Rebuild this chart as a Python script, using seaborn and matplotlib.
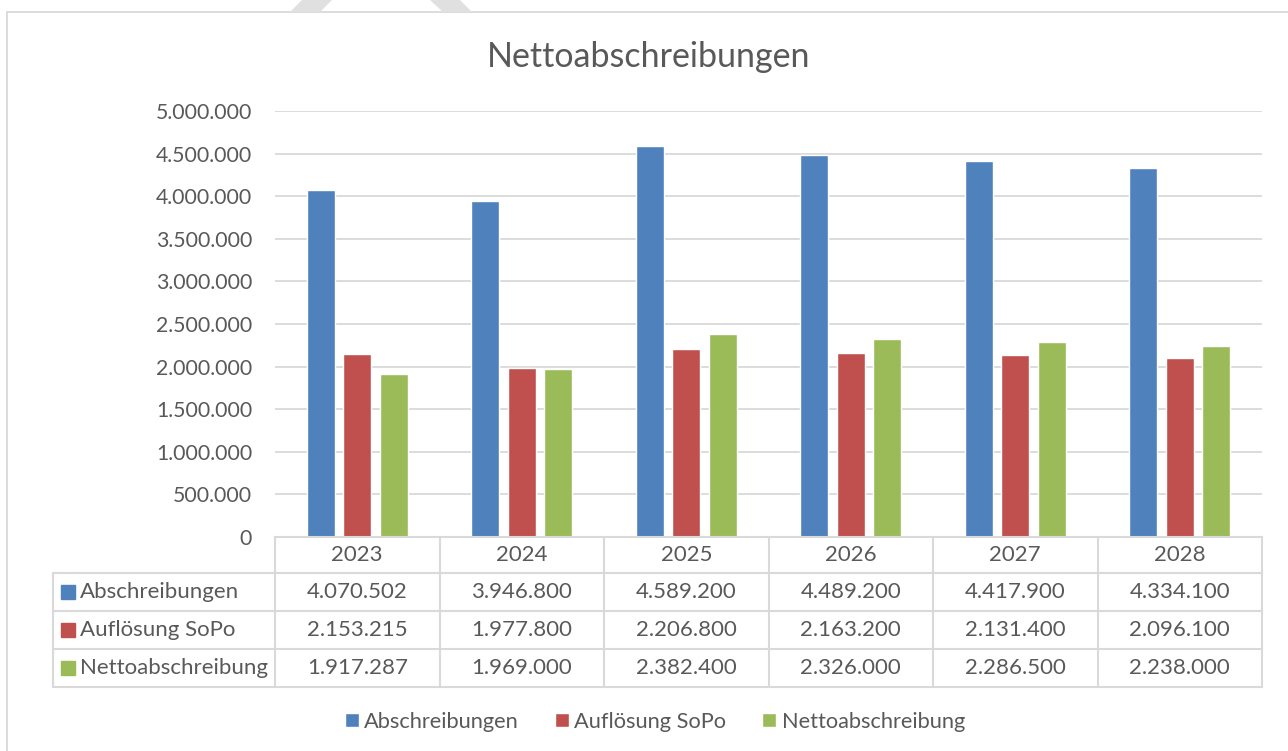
import matplotlib
matplotlib.use("Agg")
import matplotlib.pyplot as plt
import matplotlib.patches as mpatches
from matplotlib.lines import Line2D
import seaborn as sns
import pandas as pd

# ---------------- data ----------------
years = ["2023", "2024", "2025", "2026", "2027", "2028"]
series_names = ["Abschreibungen", "Auflösung SoPo", "Nettoabschreibung"]
abschreibungen = [4070502, 3946800, 4589200, 4489200, 4417900, 4334100]
aufloesung_sopo = [2153215, 1977800, 2206800, 2163200, 2131400, 2096100]
nettoabschreibung = [1917287, 1969000, 2382400, 2326000, 2286500, 2238000]
y_ticks = [0, 500000, 1000000, 1500000, 2000000, 2500000, 3000000, 3500000, 4000000, 4500000, 5000000]
title = "Nettoabschreibungen"

colors = ["#4F81BD", "#C0504D", "#9BBB59"]
text_color = "#595959"
grid_color = "#D9D9D9"

values = [abschreibungen, aufloesung_sopo, nettoabschreibung]
df = pd.DataFrame({
    "Jahr": years * 3,
    "Serie": [s for s in series_names for _ in years],
    "Wert": abschreibungen + aufloesung_sopo + nettoabschreibung,
})

def de_fmt(v):
    return f"{int(v):,}".replace(",", ".")

# ---------------- figure ----------------
sns.set_theme(style="white")
plt.rcParams["font.family"] = ["Lato", "DejaVu Sans"]

W, H = 1288, 751
fig = plt.figure(figsize=(W / 100, H / 100), dpi=100)

def fx(px):
    return px / W

def fy(py):
    return 1 - py / H

ax_l, ax_r, ax_t, ax_b = 275, 1262, 111, 537
ax = fig.add_axes([fx(ax_l), fy(ax_b), fx(ax_r - ax_l), (ax_b - ax_t) / H])

sns.barplot(data=df, x="Jahr", y="Wert", hue="Serie", order=years,
            hue_order=series_names, palette=colors, width=0.665, gap=0.23,
            saturation=1, ax=ax, legend=True)

ax.set_ylim(0, 5000000)
ax.set_xlim(-0.5, len(years) - 0.5)
ax.set_yticks(y_ticks)
ax.set_yticklabels([de_fmt(t) for t in y_ticks], color=text_color, fontsize=15.3)
ax.tick_params(axis="y", length=0, pad=16.5)
ax.set_xticks([])
ax.set_xlabel("")
ax.set_ylabel("")
ax.yaxis.grid(True, color=grid_color, linewidth=1.3)
ax.set_axisbelow(True)
for s in ax.spines.values():
    s.set_visible(False)

handles, labels = ax.get_legend_handles_labels()
ax.get_legend().remove()

# ---------------- data table ----------------
axh = ax_b - ax_t
def ay(py):
    return (ax_b - py) / axh
def axx(px):
    return (px - ax_l) / (ax_r - ax_l)

row_edges = [537, 573, 611, 649, 687]
left_px = 53
lw = 1.5
tr = ax.transAxes
col_w = 1.0 / len(years)

# horizontal lines
ax.add_line(Line2D([0, 1], [ay(row_edges[0])] * 2, transform=tr, color=grid_color, lw=lw, clip_on=False))
for r in row_edges[1:]:
    ax.add_line(Line2D([axx(left_px), 1], [ay(r)] * 2, transform=tr, color=grid_color, lw=lw, clip_on=False))
# vertical lines
for i in range(len(years) + 1):
    ax.add_line(Line2D([i * col_w] * 2, [ay(row_edges[0]), ay(row_edges[-1])], transform=tr,
                       color=grid_color, lw=lw, clip_on=False))
ax.add_line(Line2D([axx(left_px)] * 2, [ay(row_edges[1]), ay(row_edges[-1])], transform=tr,
                   color=grid_color, lw=lw, clip_on=False))

fs_table = 16
for i, yr in enumerate(years):
    ax.text((i + 0.5) * col_w, ay((row_edges[0] + row_edges[1]) / 2), yr, transform=tr,
            ha="center", va="center", color=text_color, fontsize=fs_table)
for j, (name, vals, c) in enumerate(zip(series_names, values, colors)):
    yc = ay((row_edges[j + 1] + row_edges[j + 2]) / 2)
    sq = 14
    ax.add_patch(mpatches.Rectangle((axx(61), yc - (sq / 2) / axh), sq / (ax_r - ax_l), sq / axh,
                                    transform=tr, color=c, clip_on=False))
    ax.text(axx(80), yc, name, transform=tr, ha="left", va="center", color=text_color, fontsize=fs_table)
    for i, v in enumerate(vals):
        ax.text((i + 0.5) * col_w, yc, de_fmt(v), transform=tr, ha="center", va="center",
                color=text_color, fontsize=fs_table)

# ---------------- title & legend ----------------
fig.text(fx(649), fy(57), title, ha="center", va="center", color=text_color, fontsize=24.5)

fig.legend(handles, labels, loc="center", bbox_to_anchor=(fx(655), fy(722)), ncol=3,
           frameon=False, fontsize=15.7, handlelength=0.63, handleheight=0.63,
           handletextpad=0.25, columnspacing=1.65, labelcolor=text_color)

# ---------------- chart border & faint artefacts ----------------
fig.patches.append(mpatches.Rectangle((fx(7), fy(760)), fx(1300), (760 - 12) / H,
                                      transform=fig.transFigure, fill=False,
                                      edgecolor=grid_color, linewidth=1.3))
for poly in ([(290, 12), (320, 12), (332, 0), (302, 0)],
             [(430, 0), (460, 0), (472, 12), (443, 12)]):
    fig.patches.append(mpatches.Polygon([(fx(x), fy(y)) for x, y in poly], closed=True,
                                        transform=fig.transFigure, color="#E0E0E0", lw=0))

fig.savefig("out.png", dpi=100, facecolor="white")
